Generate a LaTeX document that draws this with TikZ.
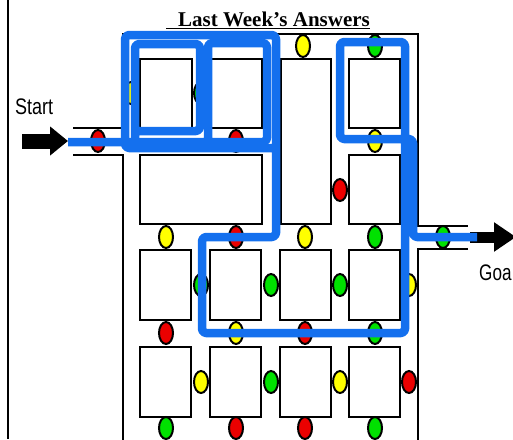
\documentclass[tikz,border=0pt]{standalone}
\usepackage{graphicx}
\usepackage{fontspec}
\setmainfont{Liberation Serif}
\newfontfamily\arialfont{Liberation Sans}
\usetikzlibrary{arrows.meta}
\definecolor{routeblue}{RGB}{20,112,238}
\definecolor{lampred}{RGB}{235,0,0}
\definecolor{lampyellow}{RGB}{255,255,0}
\definecolor{lampgreen}{RGB}{0,225,0}
\begin{document}
\begin{tikzpicture}[x=1pt,y=-1pt,
	wall/.style={line width=2.5pt},
	room/.style={line width=2.7pt,fill=white},
	lamp/.style={line width=2pt},
	route/.style={routeblue,line width=8.5pt,rounded corners=4pt,line join=round},
	label/.style={font=\arialfont\fontsize{18}{20}\selectfont,inner sep=0pt,anchor=base west}]
	\useasboundingbox (0,0) rectangle (513,439);
	\draw[line width=1.5pt] (8,0) -- (8,439);
	\node[font=\bfseries\fontsize{21}{25}\selectfont,inner sep=0pt,anchor=base] (title) at (268,26) {\underline{\hspace{12pt}Last Week’s Answers}};
	\node[label] (start) at (15,114) {\scalebox{1}[1.25]{Start}};
	\node[label] (goal) at (479,280) {\scalebox{0.95}[1.25]{Goa}};
	\draw[wall] (73,128) -- (123,128) -- (123,34) -- (418,34) -- (418,226) -- (468,226);
	\draw[wall] (468,249) -- (418,249) -- (418,445);
	\draw[wall] (73,155) -- (123,155) -- (123,445);
	\foreach \xa/\ya/\xb/\yb in {140/59/192/128, 210/59/262/128, 281/59/331/224, 349/59/400/128, 140/155/262/224, 349/155/400/224}
		\draw[room] (\xa,\ya) rectangle (\xb,\yb);
	\foreach \xa in {140,210,280,349} {
		\draw[room] (\xa,250) rectangle +(51,70);
		\draw[room] (\xa,347) rectangle +(51,70);
	}
	\foreach \x/\y/\c in {98/141/lampred, 236/141/lampred, 131/93/lampyellow, 201/93/lampgreen, 303/46/lampyellow, 375/46/lampgreen, 375/141/lampyellow, 340/190/lampred, 409/190/lampred, 443/237/lampgreen,
		166/237/lampyellow, 236/237/lampred, 305/237/lampyellow, 375/237/lampgreen,
		201/285/lampgreen, 271/285/lampgreen, 340/285/lampgreen, 409/285/lampyellow,
		166/333/lampred, 236/333/lampyellow, 305/333/lampred, 375/333/lampgreen,
		201/382/lampyellow, 271/382/lampgreen, 340/382/lampyellow, 409/382/lampred,
		166/428/lampgreen, 236/428/lampred, 305/428/lampred, 375/428/lampgreen}
		\draw[lamp,fill=\c] (\x,\y) ellipse (7pt and 11pt);
	\draw[line width=15pt,-{Triangle[length=18pt,width=28pt]}] (22,141) -- (68,141);
	\draw[line width=11pt,-{Triangle[length=22pt,width=28pt]}] (470,237) -- (516,237);
	\draw[route] (68,142) -- (267,142) -- (267,43) -- (208,43) -- (208,142);
	\draw[route] (135,148) -- (135,44) -- (200,44) -- (200,131) -- (135,131);
	\draw[route] (275,148) -- (125,148) -- (125,35) -- (276,35) -- (276,237) -- (202,237) -- (202,333) -- (405,333) -- (405,42) -- (340,42) -- (340,139) -- (413,139) -- (413,237) -- (477,237);
\end{tikzpicture}
\end{document}
